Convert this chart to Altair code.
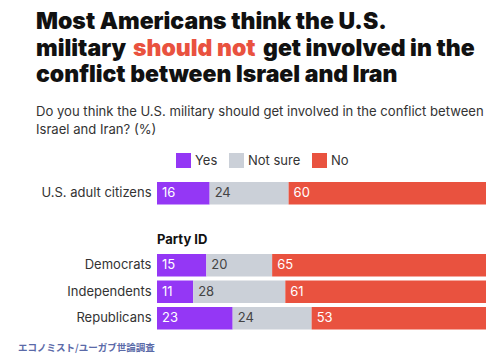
import altair as alt
import pandas as pd

FONT = "Inter"

title_line1 = "Most Americans think the U.S."
title_line2 = ["military", "should not", "get involved in the"]
title_line3 = "conflict between Israel and Iran"
subtitle_lines = [
    "Do you think the U.S. military should get involved in the conflict between",
    "Israel and Iran? (%)",
]
answers = ["Yes", "Not sure", "No"]
colors = ["#9437f5", "#cbd0d8", "#e9523f"]

overall_groups = ["U.S. adult citizens"]
overall_yes = [16]
overall_not_sure = [24]
overall_no = [60]

party_title = "Party ID"
party_groups = ["Democrats", "Independents", "Republicans"]
party_yes = [15, 11, 23]
party_not_sure = [20, 28, 24]
party_no = [65, 61, 53]

source = "エコノミスト/ユーガブ世論調査"


def long(groups, yes, ns, no):
    rows = []
    for g, vals in zip(groups, zip(yes, ns, no)):
        start = 0
        for a, v in zip(answers, vals):
            rows.append(dict(group=g, answer=a, value=v, start=start, end=start + v))
            start += v
    return pd.DataFrame(rows)


def txt(s, x, y, size, weight="normal", color="#222", font=FONT):
    return alt.Chart(pd.DataFrame({"t": [s]})).mark_text(
        align="left", baseline="alphabetic", fontSize=size, fontWeight=weight,
        color=color, font=font
    ).encode(text="t:N", x=alt.value(x), y=alt.value(y))


def panel(df, groups, legend):
    base = alt.Chart(df)
    y = alt.Y(
        "group:N", sort=groups, title=None,
        scale=alt.Scale(domain=groups, paddingInner=0.15, paddingOuter=0.075),
        axis=alt.Axis(domain=False, ticks=False, labelFontSize=13, labelColor="#333",
                      labelPadding=6, labelFont=FONT, labelLimit=220),
    )
    bars = base.mark_bar().encode(
        y=y,
        x=alt.X("start:Q", scale=alt.Scale(domain=[0, 100]), axis=None),
        x2="end:Q",
        color=alt.Color("answer:N", scale=alt.Scale(domain=answers, range=colors), legend=legend),
    )
    labels = base.mark_text(align="left", dx=5, fontSize=13, font=FONT).encode(
        y=y,
        x=alt.X("start:Q"),
        text="value:Q",
        color=alt.condition(alt.datum.answer == "Not sure", alt.value("#444"), alt.value("white")),
    )
    return bars, labels


legend = alt.Legend(
    orient="none", legendX=19, legendY=-27, direction="horizontal", title=None,
    symbolType="square", symbolSize=225, symbolStrokeWidth=0, labelFontSize=13,
    labelFont=FONT, labelColor="#333", columnPadding=11, labelOffset=4,
)

dfA = long(overall_groups, overall_yes, overall_not_sure, overall_no)
dfB = long(party_groups, party_yes, party_not_sure, party_no)

barsA, labelsA = panel(dfA, overall_groups, legend)
barsB, labelsB = panel(dfB, party_groups, None)

TS = 23
TW = 900
header = [
    txt(title_line1, -121, -151, TS, TW, "#111"),
    txt(title_line2[0], -121, -124.5, TS, TW, "#111"),
    txt(title_line2[1], -24, -124.5, TS, TW, "#e9523f"),
    txt(title_line2[2], 106, -124.5, TS, TW, "#111"),
    txt(title_line3, -121, -98, TS, TW, "#111"),
    txt(subtitle_lines[0], -121, -64, 13.1, "normal", "#333"),
    txt(subtitle_lines[1], -121, -46, 13.1, "normal", "#333"),
]

chartA = alt.layer(barsA, labelsA, *header).properties(width=329, height=26.5)

chartB = alt.layer(
    barsB, labelsB,
    txt(source, -139, 99, 9.5, "bold", "#5b6aa8", "Noto Sans CJK JP"),
).properties(
    width=329, height=79.5,
    title=alt.TitleParams(party_title, anchor="start", frame="group", fontSize=13,
                          fontWeight=700, font=FONT, color="#111", offset=5),
)

chart = alt.vconcat(chartA, chartB, spacing=27).configure_view(stroke=None).properties(
    padding={"left": 10, "top": 3, "right": 5, "bottom": 5}
)

chart.save("out.html", embed_options={"renderer": "svg", "actions": False})
